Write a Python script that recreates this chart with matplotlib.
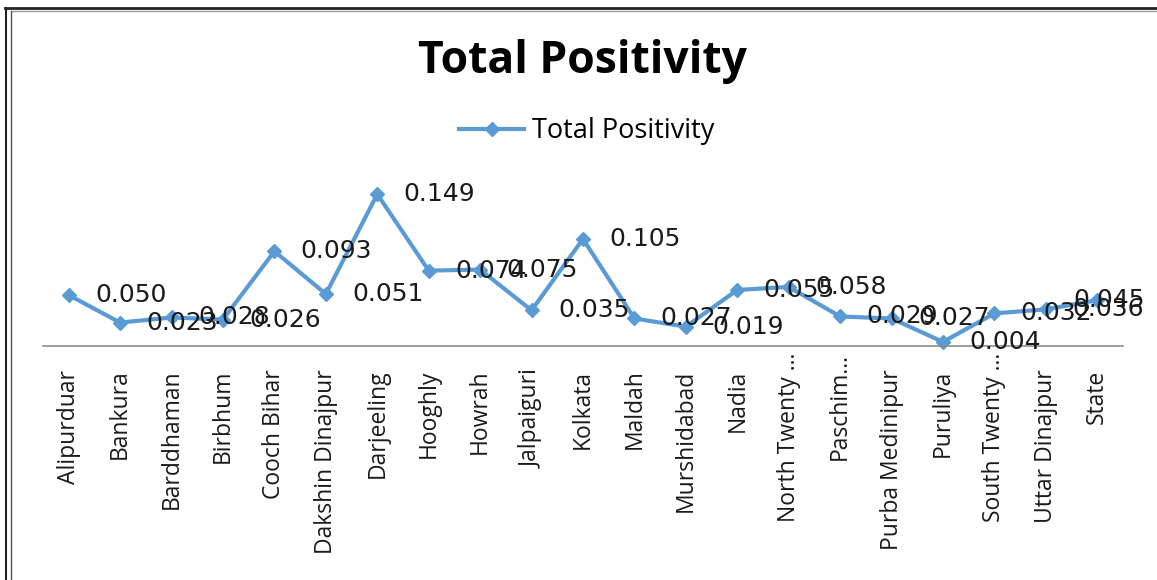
import matplotlib
matplotlib.use("Agg")
import matplotlib.pyplot as plt
from matplotlib.lines import Line2D
from matplotlib.transforms import ScaledTranslation

districts = ['Alipurduar', 'Bankura', 'Barddhaman', 'Birbhum', 'Cooch Bihar',
             'Dakshin Dinajpur', 'Darjeeling', 'Hooghly', 'Howrah', 'Jalpaiguri',
             'Kolkata', 'Maldah', 'Murshidabad', 'Nadia', 'North Twenty …',
             'Paschim…', 'Purba Medinipur', 'Puruliya', 'South Twenty …',
             'Uttar Dinajpur', 'State']
positivity = [0.050, 0.023, 0.028, 0.026, 0.093, 0.051, 0.149, 0.074, 0.075, 0.035,
              0.105, 0.027, 0.019, 0.055, 0.058, 0.029, 0.027, 0.004, 0.032, 0.036,
              0.045]

blue = '#5B9BD5'
W, H = 1157, 580
fig = plt.figure(figsize=(W / 100, H / 100), dpi=100)
fig.patch.set_facecolor('white')

ax = fig.add_axes([43 / W, (H - 346) / H, 1080 / W, 163 / H])
x = list(range(len(districts)))
ax.plot(x, positivity, color=blue, lw=3, marker='D', markersize=7, clip_on=False)
ax.set_xlim(-0.5, len(districts) - 0.5)
ax.set_ylim(0, 0.16)

# value labels to the right of each point, kept inside the chart area
fig.canvas.draw()
renderer = fig.canvas.get_renderer()
right_edge = 1145
for xi, v in zip(x, positivity):
    t = ax.annotate('%.3f' % v, (xi, v), xytext=(19, 0), textcoords='offset points',
                    ha='left', va='center', fontsize=18, family='DejaVu Sans',
                    color='#1a1a1a', annotation_clip=False)
    bb = t.get_window_extent(renderer)
    if bb.x1 > right_edge:
        shift = (bb.x1 - right_edge) * 72 / fig.dpi
        t.xyann = (19 - shift, 0)

for s in ['top', 'right', 'left']:
    ax.spines[s].set_visible(False)
ax.spines['bottom'].set_color('#8c8c8c')
ax.spines['bottom'].set_linewidth(1.2)
ax.set_yticks([])
ax.set_xticks(x)
ax.set_xticklabels(districts, rotation=90, fontsize=16.5, family='Open Sans',
                   color='#1a1a1a', va='top', ha='center')
ax.tick_params(axis='x', length=0, pad=17)
# shortened names sit a bit closer to the axis
for lab in ax.get_xticklabels():
    if lab.get_text().endswith('…'):
        lab.set_transform(lab.get_transform() + ScaledTranslation(0, 12 / 72, fig.dpi_scale_trans))

fig.text(582 / W, 1 - 62 / H, 'Total Positivity', ha='center', va='center',
         fontsize=32, fontweight='bold', family='Open Sans', color='black')

handle = Line2D([], [], color=blue, lw=3, marker='D', markersize=7)
fig.legend([handle], ['Total Positivity'], loc='center', bbox_to_anchor=(587 / W, 1 - 131 / H),
           frameon=False, prop={'family': 'Open Sans', 'size': 19.5},
           handlelength=2.4, handletextpad=0.3)

# chart frame
fig.add_artist(Line2D([5 / W, 1], [1 - 8 / H] * 2, color='#222222', lw=2))
fig.add_artist(Line2D([11 / W, 1], [1 - 11 / H] * 2, color='#999999', lw=1))
fig.add_artist(Line2D([6 / W] * 2, [0, 1 - 8 / H], color='#222222', lw=1.5))
fig.add_artist(Line2D([11 / W] * 2, [0, 1 - 11 / H], color='#555555', lw=1))

fig.savefig('out.png', dpi=100)
